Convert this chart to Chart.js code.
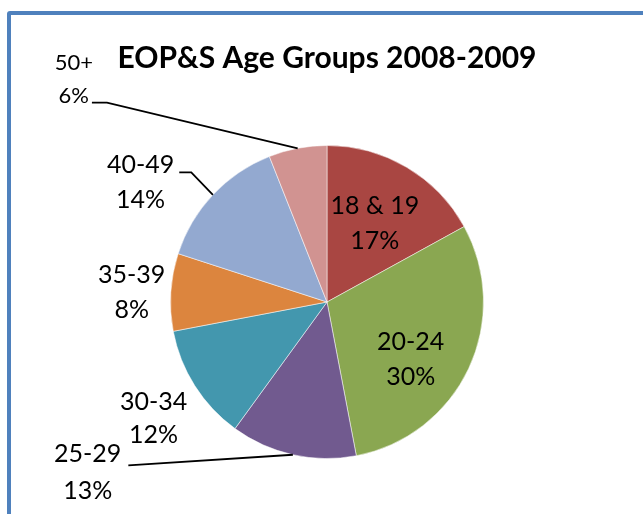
<!DOCTYPE html>
<html>
<head>
<meta charset="utf-8">
<script src="https://cdn.jsdelivr.net/npm/chart.js@4.4.0/dist/chart.umd.min.js"></script>
<style>
    html, body { margin: 0; padding: 0; background: #fff; overflow: hidden; }
    #frame {
        position: absolute; left: 7px; top: 11px; width: 640px; height: 530px;
        border: 4px solid #4F81BD; border-radius: 3px; box-sizing: border-box;
    }
    #chart { position: absolute; left: 0; top: 0; }
</style>
</head>
<body>
<div id="frame"></div>
<canvas id="chart" width="643" height="514"></canvas>
<script>
// Age groups and their share, %
const ageGroups = ['18 & 19', '20-24', '25-29', '30-34', '35-39', '40-49', '50+'];
const percentages = [17, 30, 13, 12, 8, 14, 6];

// Slice colours (Excel 2007 palette)
const sliceColors = ['#A94642', '#8AA751', '#715A8F', '#4397AE', '#DC853E', '#93A9D0', '#D19391'];

// Label placement: centre of label block, in pie radii from the pie centre
const labelPos = [
    [0.306, -0.500],
    [0.535, 0.366],
    [-1.529, 1.092],
    [-1.108, 0.742],
    [-1.248, -0.061],
    [-1.191, -0.761],
    [-1.618, -1.424]
];
const labelFontSize = [25, 25, 25, 25, 25, 25, 22];
const labelLineGap = [35, 35, 37, 33, 35, 35, 33];
// Leader lines: [gap after text, y offset from label centre, horizontal elbow]
const leaders = [null, null, [7, -7.5, 0], null, null, [5, -10.5, 12], [-1, 23.5, 15]];

// Plugin that draws the data labels and the leader lines
const sliceLabels = {
    id: 'sliceLabels',
    afterDatasetsDraw(chart) {
        const ctx = chart.ctx;
        const arcs = chart.getDatasetMeta(0).data;
        arcs.forEach((arc, i) => {
            const p = arc.getProps(['x', 'y', 'startAngle', 'endAngle', 'outerRadius'], true);
            const r = p.outerRadius;
            const lx = p.x + labelPos[i][0] * r;
            const ly = p.y + labelPos[i][1] * r;
            const lines = [ageGroups[i], percentages[i] + '%'];
            ctx.save();
            ctx.font = labelFontSize[i] + 'px Lato';
            ctx.fillStyle = '#000';
            ctx.textAlign = 'center';
            ctx.textBaseline = 'middle';
            lines.forEach((t, k) => ctx.fillText(t, lx, ly + (k - 0.5) * labelLineGap[i]));
            const leader = leaders[i];
            if (leader) {
                const mid = (p.startAngle + p.endAngle) / 2;
                const ex = p.x + Math.cos(mid) * r;
                const ey = p.y + Math.sin(mid) * r;
                const w = Math.max(...lines.map(t => ctx.measureText(t).width));
                const sx = lx + w / 2 + leader[0];
                const sy = ly + leader[1];
                ctx.beginPath();
                ctx.moveTo(sx, sy);
                ctx.lineTo(sx + leader[2], sy);
                ctx.lineTo(ex, ey);
                ctx.lineWidth = 1.8;
                ctx.strokeStyle = '#000';
                ctx.stroke();
            }
            ctx.restore();
        });
    }
};

new Chart(document.getElementById('chart').getContext('2d'), {
    type: 'pie',
    data: {
        labels: ageGroups,
        datasets: [{
            data: percentages,
            backgroundColor: sliceColors,
            borderColor: 'rgba(255, 255, 255, 0.5)',
            borderWidth: 1
        }]
    },
    options: {
        responsive: false,
        animation: false,
        layout: { padding: { left: 11, right: 0, top: 0, bottom: 55 } },
        plugins: {
            legend: { display: false },
            tooltip: { enabled: false },
            title: {
                display: true,
                text: 'EOP&S Age Groups 2008-2009',
                color: '#000',
                font: { family: 'Lato', size: 30, weight: 'bold', lineHeight: 1.2 },
                padding: { top: 40, bottom: 69 }
            }
        }
    },
    plugins: [sliceLabels]
});
</script>
</body>
</html>
